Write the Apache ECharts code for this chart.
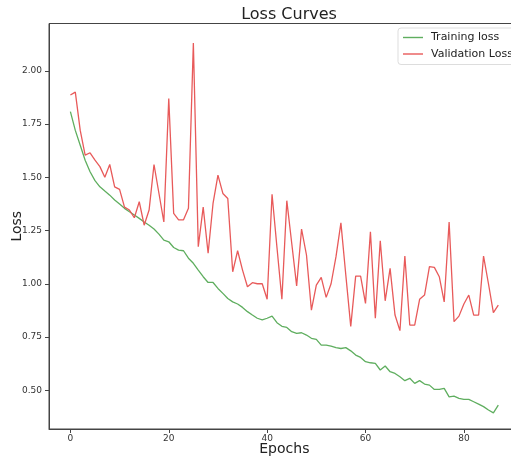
<!DOCTYPE html>
<html>
<head>
<meta charset="utf-8">
<script src="https://cdn.jsdelivr.net/npm/echarts@6/dist/echarts.min.js"></script>
<style>
  html, body { margin: 0; padding: 0; background: #fff; }
  #chart { width: 511px; height: 461px; }
</style>
</head>
<body>
<div id="chart"></div>
<script>
const trainingLoss = [1.808, 1.72, 1.65, 1.58, 1.526, 1.484, 1.455, 1.435, 1.416, 1.393, 1.374, 1.354,
  1.338, 1.323, 1.307, 1.29, 1.275, 1.257, 1.233, 1.205, 1.197, 1.17,
  1.158, 1.155, 1.12, 1.096, 1.064, 1.033, 1.006, 1.006, 0.978, 0.955, 0.931, 0.915, 0.905, 0.889,
  0.869, 0.853, 0.838, 0.83, 0.838, 0.848, 0.817, 0.80,
  0.795, 0.775, 0.767, 0.77, 0.759, 0.744, 0.739, 0.712, 0.712, 0.707, 0.70, 0.696, 0.70, 0.685,
  0.665, 0.654, 0.634, 0.629, 0.626, 0.595, 0.614, 0.587, 0.579,
  0.563, 0.545, 0.556, 0.532, 0.545, 0.529, 0.524, 0.504, 0.504, 0.509, 0.469, 0.472, 0.462,
  0.457, 0.457, 0.446, 0.435, 0.423, 0.407, 0.394, 0.43];

const validationLoss = [1.886, 1.90, 1.72, 1.604, 1.615, 1.58, 1.55, 1.50, 1.56, 1.455, 1.443, 1.36,
  1.346, 1.31, 1.385, 1.275, 1.346, 1.56, 1.425, 1.29, 1.87, 1.33,
  1.30, 1.30, 1.354, 2.13, 1.174, 1.36, 1.143, 1.377, 1.51, 1.424, 1.40, 1.056, 1.155, 1.064,
  0.986, 1.005, 1.0, 1.0, 0.927, 1.42, 1.17, 0.927,
  1.39, 1.19, 0.99, 1.257, 1.135, 0.876, 0.994, 1.03, 0.936, 1.0, 1.127, 1.286, 1.04, 0.80,
  1.036, 1.036, 0.908, 1.244, 0.838, 1.202, 0.92, 1.072, 0.853,
  0.78, 1.13, 0.806, 0.806, 0.927, 0.947, 1.08, 1.077, 1.033, 0.915, 1.29, 0.822, 0.848,
  0.905, 0.947, 0.853, 0.853, 1.13, 1.0, 0.864, 0.90];

const xTicks = [0, 20, 40, 60, 80];
const yTicks = [0.5, 0.75, 1.0, 1.25, 1.5, 1.75, 2.0];

const FONT = 'DejaVu Sans';
const AXIS_COLOR = '#444';

function pairs(values) {
  return values.map((v, i) => [i, v]);
}

const chart = echarts.init(document.getElementById('chart'));

chart.setOption({
  backgroundColor: '#fff',
  animation: false,
  title: {
    text: 'Loss Curves',
    left: 284,
    top: 2,
    textAlign: 'center',
    textStyle: { fontFamily: FONT, fontSize: 16, fontWeight: 'normal', color: '#222' }
  },
  legend: {
    orient: 'vertical',
    left: 398,
    top: 28,
    padding: [4, 8, 5, 5],
    icon: 'rect',
    itemWidth: 20,
    itemHeight: 1.4,
    itemGap: 5.5,
    backgroundColor: '#fff',
    borderColor: '#ddd',
    borderWidth: 1,
    borderRadius: 3,
    textStyle: { fontFamily: FONT, fontSize: 11, color: '#222', padding: [0, 0, 0, 3] },
    data: ['Training loss', 'Validation Loss']
  },
  grid: {
    left: 49,
    top: 23.5,
    right: -8.7,
    bottom: 32,
    show: true,
    borderColor: AXIS_COLOR,
    borderWidth: 1,
    outerBoundsMode: 'none'
  },
  xAxis: {
    type: 'value',
    min: -4.35,
    max: 91.35,
    name: 'Epochs',
    nameLocation: 'middle',
    nameGap: 13,
    nameMoveOverlap: false,
    nameTextStyle: { fontFamily: FONT, fontSize: 14, color: '#222' },
    splitLine: { show: false },
    axisLine: { show: true, onZero: false, lineStyle: { color: AXIS_COLOR } },
    axisTick: { show: true, length: 4, customValues: xTicks, lineStyle: { color: AXIS_COLOR } },
    axisLabel: {
      customValues: xTicks,
      margin: 5,
      fontFamily: FONT, fontSize: 9, color: '#333'
    }
  },
  yAxis: {
    type: 'value',
    min: 0.318,
    max: 2.222,
    name: 'Loss',
    nameLocation: 'middle',
    nameRotate: 90,
    nameGap: 25,
    nameMoveOverlap: false,
    nameTextStyle: { fontFamily: FONT, fontSize: 14, color: '#222' },
    splitLine: { show: false },
    axisLine: { show: true, onZero: false, lineStyle: { color: AXIS_COLOR } },
    axisTick: { show: true, length: 4, customValues: yTicks, lineStyle: { color: AXIS_COLOR } },
    axisLabel: {
      customValues: yTicks,
      margin: 7,
      fontFamily: FONT, fontSize: 9, color: '#333',
      formatter: v => v.toFixed(2)
    }
  },
  series: [
    {
      name: 'Training loss',
      type: 'line',
      data: pairs(trainingLoss),
      symbol: 'none',
      color: '#5fae5f',
      lineStyle: { width: 1.3 }
    },
    {
      name: 'Validation Loss',
      type: 'line',
      data: pairs(validationLoss),
      symbol: 'none',
      color: '#e85a5a',
      lineStyle: { width: 1.3 }
    }
  ]
});
</script>
</body>
</html>
